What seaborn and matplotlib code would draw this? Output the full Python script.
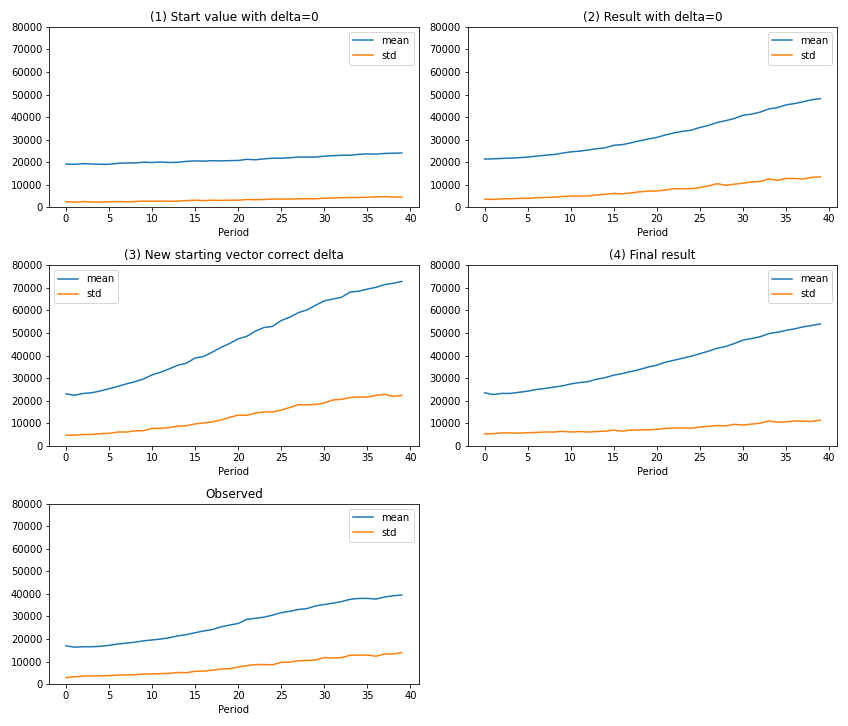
import numpy as np
import pandas as pd
import matplotlib
matplotlib.use("Agg")
import matplotlib.pyplot as plt
import seaborn as sns

period = np.arange(40)

start_mean = [19200, 19100, 19400, 19200, 19100, 19100, 19500, 19700, 19700, 20000,
              19900, 20100, 19900, 20000, 20400, 20600, 20500, 20700, 20600, 20700,
              20800, 21300, 21100, 21500, 21800, 21800, 22000, 22300, 22300, 22300,
              22700, 22900, 23100, 23100, 23500, 23700, 23600, 23900, 24000, 24100]
start_std = [2500, 2300, 2600, 2400, 2300, 2500, 2600, 2500, 2600, 2800,
             2700, 2800, 2700, 2800, 3000, 3200, 3000, 3200, 3100, 3200,
             3200, 3500, 3400, 3500, 3700, 3700, 3700, 3800, 3800, 3800,
             4100, 4200, 4300, 4400, 4400, 4500, 4700, 4800, 4600, 4600]

res0_mean = [21400, 21500, 21700, 21800, 22000, 22300, 22700, 23100, 23400, 24000,
             24600, 24900, 25400, 26000, 26400, 27500, 27800, 28600, 29500, 30300,
             31000, 32100, 33000, 33700, 34200, 35400, 36300, 37600, 38400, 39400,
             40800, 41300, 42200, 43600, 44200, 45400, 46000, 46800, 47700, 48200]
res0_std = [3700, 3500, 3800, 3800, 4000, 4000, 4300, 4400, 4500, 4800,
            5000, 5000, 5100, 5500, 5800, 6200, 6000, 6400, 6900, 7200,
            7300, 7700, 8300, 8300, 8300, 8800, 9500, 10500, 9800, 10300,
            10700, 11300, 11500, 12600, 12000, 12800, 12800, 12600, 13300, 13500]

new_mean = [23000, 22400, 23200, 23500, 24300, 25300, 26300, 27400, 28400, 29600,
            31400, 32600, 34100, 35700, 36600, 38900, 39600, 41500, 43600, 45300,
            47400, 48500, 50800, 52400, 52900, 55500, 57000, 59000, 60200, 62300,
            64200, 65000, 65800, 68100, 68500, 69400, 70200, 71400, 72000, 72800]
new_std = [4700, 4700, 5000, 5000, 5400, 5500, 6100, 6100, 6600, 6700,
           7700, 7700, 8100, 8700, 8900, 9700, 10100, 10600, 11400, 12600,
           13600, 13500, 14500, 15000, 15000, 15800, 17000, 18200, 18200, 18300,
           19000, 20300, 20600, 21400, 21600, 21600, 22300, 22800, 21900, 22300]

final_mean = [23500, 22700, 23200, 23200, 23700, 24200, 24900, 25400, 26000, 26500,
              27400, 28000, 28400, 29500, 30200, 31300, 32000, 32900, 33800, 34900,
              35700, 37000, 37900, 38800, 39700, 40800, 41900, 43200, 44000, 45300,
              46800, 47500, 48300, 49700, 50300, 51100, 51800, 52700, 53300, 54000]
final_std = [5300, 5400, 5700, 5700, 5600, 5800, 5900, 6100, 6100, 6400,
             6100, 6300, 6100, 6300, 6500, 6900, 6500, 7000, 7000, 7100,
             7300, 7700, 7900, 7900, 7800, 8300, 8600, 9000, 8800, 9500,
             9200, 9600, 10000, 11000, 10500, 10600, 11000, 10900, 10800, 11400]

obs_mean = [17000, 16400, 16600, 16600, 16800, 17200, 17800, 18200, 18600, 19200,
            19600, 20000, 20600, 21400, 22000, 22800, 23600, 24200, 25400, 26200,
            26900, 28700, 29200, 29700, 30600, 31700, 32300, 33100, 33500, 34700,
            35300, 35900, 36600, 37600, 38000, 38000, 37700, 38600, 39200, 39500]
obs_std = [2900, 3300, 3600, 3700, 3700, 3800, 4000, 4100, 4200, 4500,
           4500, 4700, 4800, 5200, 5100, 5700, 5800, 6200, 6700, 6900,
           7600, 8200, 8700, 8700, 8600, 9700, 9800, 10400, 10500, 10700,
           11800, 11600, 11800, 12800, 12900, 12900, 12400, 13400, 13400, 14000]

titles = ["(1) Start value with delta=0", "(2) Result with delta=0",
          "(3) New starting vector correct delta", "(4) Final result", "Observed"]
series = [(start_mean, start_std), (res0_mean, res0_std), (new_mean, new_std),
          (final_mean, final_std), (obs_mean, obs_std)]

fig, axes = plt.subplots(3, 2, figsize=(848 / 72, 726 / 72), dpi=72)
axes = axes.flatten()

for ax, title, (m, s) in zip(axes, titles, series):
    df = pd.DataFrame({"Period": period, "mean": m, "std": s})
    sns.lineplot(x="Period", y="mean", data=df, ax=ax, label="mean", color="C0")
    sns.lineplot(x="Period", y="std", data=df, ax=ax, label="std", color="C1")
    ax.set_ylim(0, 80000)
    ax.set_ylabel("")
    ax.set_xlabel("Period")
    ax.set_title(title)
    ax.legend(loc="best")

fig.delaxes(axes[5])
plt.tight_layout()
plt.savefig("out.png")
